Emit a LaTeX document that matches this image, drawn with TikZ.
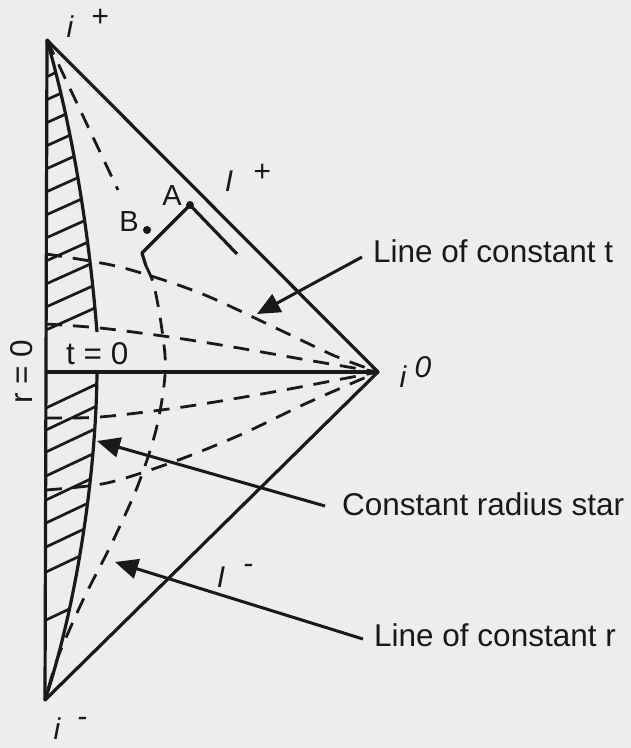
\documentclass[tikz,border=0pt]{standalone}
\usepackage{fontspec}
\setmainfont{Liberation Sans}
\usetikzlibrary{arrows.meta}
\definecolor{paper}{RGB}{237,237,235}
\definecolor{ink}{RGB}{25,25,25}
\begin{document}
\begin{tikzpicture}[x=1pt,y=-1pt,line join=round,
  solidline/.style={ink,line width=3.2pt},
  dashline/.style={ink,line width=2.8pt,dash pattern=on 16pt off 11pt},
  hatchline/.style={ink,line width=2.7pt},
  lbl/.style={font=\fontsize{31.5}{32}\selectfont,text=ink,inner sep=0pt},
  ilbl/.style={font=\fontsize{30}{30}\selectfont\itshape,text=ink,inner sep=0pt},
  pointer/.style={ink,line width=3pt,-{Triangle[length=23pt,width=20pt]}},
  pt/.style={circle,fill=ink,inner sep=0pt,minimum size=8pt}]
\fill[paper] (0,0) rectangle (631,748);
\useasboundingbox (0,0) rectangle (631,748);
% vertices
\coordinate (ip) at (47,40);
\coordinate (io) at (378,372);
\coordinate (im) at (45,700);
\coordinate (t0) at (46,372);
% hatching of the star
\begin{scope}
\clip (46,40) .. controls (70,120) and (88,220) .. (97,332) -- (97,336) -- (46,336) -- cycle;
\foreach \y in {77,100,...,333} \draw[hatchline] (46,\y) -- ++(70,-31.5);
\end{scope}
\begin{scope}
\clip (46,372) -- (97,372) .. controls (96,480) and (75,610) .. (45,700) -- cycle;
\foreach \y in {408,430,452,476,500,523,547,572,620} \draw[hatchline] (46,\y) -- ++(70,-33);
\end{scope}
% star boundary
\draw[solidline] (ip) .. controls (70,120) and (88,220) .. (97,332);
\draw[solidline] (97,372) .. controls (96,480) and (75,610) .. (im);
% frame
\draw[solidline] (ip) -- (io) -- (im) -- cycle;
\draw[solidline] (t0) -- (io);
% lines of constant t
\draw[dashline] plot[smooth] coordinates {(46,254) (120,267) (200,293) (280,330) (335,356) (378,372)};
\draw[dashline] plot[smooth] coordinates {(46,324) (100,328) (170,337) (233,347) (307,360) (378,372)};
\draw[dashline] plot[smooth] coordinates {(46,418) (100,417) (183,407) (273,392) (347,378) (378,372)};
\draw[dashline] plot[smooth] coordinates {(46,490) (107,483) (173,462) (240,435) (307,403) (378,372)};
% line of constant r
\draw[dashline] (ip) -- (118,190);
\draw[dashline] plot[smooth] coordinates {(146,266) (153,282) (158,305) (162,330) (165,355) (165,375) (162,400) (156,430) (147,460) (134,495) (110,547) (83,600) (58,657) (46,697)};
% points A and B
\node[pt] (A) at (190,205) {};
\node[pt] (B) at (147,230) {};
\node[lbl,font=\fontsize{29}{29}\selectfont] (Al) at (172,196) {A};
\node[lbl,font=\fontsize{29}{29}\selectfont] (Bl) at (129,222) {B};
\coordinate (kink) at (142,253);
\coordinate (kend) at (146,266);
\coordinate (aend) at (237,254);
\draw[solidline] (A.center) -- (kink) -- (kend);
\draw[solidline] (A.center) -- (aend);
% labels of the diagram
\node[ilbl] (lip) at (70,27) {i};
\node[ilbl] (lipp) at (100,18) {+};
\node[ilbl] (lIp) at (229,181) {I};
\node[ilbl] (lIpp) at (262,173) {+};
\node[ilbl] (lIm) at (221,577) {I};
\node[ilbl] (lImm) at (248,569) {-};
\node[ilbl] (lim) at (57,729) {i};
\node[ilbl] (limm) at (82,722) {-};
\node[ilbl] (lio) at (403,377) {i};
\node[ilbl] (lioo) at (423,367) {0};
\node[lbl,anchor=base west] (lt0) at (66,364) {t = 0};
\node[lbl,rotate=90] (lr0) at (22,372) {r = 0};
% pointers
\node[lbl,anchor=base west] (lct) at (373,262) {Line of constant t};
\node[lbl,anchor=base west] (lcs) at (342,515) {Constant radius star};
\node[lbl,anchor=base west] (lcr) at (374,646) {Line of constant r};
\coordinate (s1) at (362,257);
\coordinate (e1) at (257,314);
\coordinate (s2) at (325,506);
\coordinate (e2) at (97,441);
\coordinate (s3) at (363,639);
\coordinate (e3) at (115,562);
\draw[pointer] (s1) -- (e1);
\draw[pointer] (s2) -- (e2);
\draw[pointer] (s3) -- (e3);
\end{tikzpicture}
\end{document}
